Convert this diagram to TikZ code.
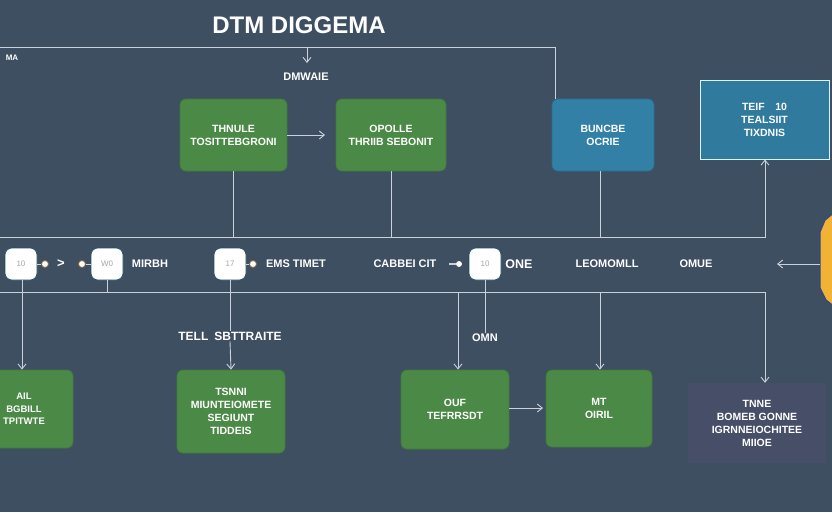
\documentclass[tikz,border=0pt]{standalone}
\usepackage{fontspec}
\setmainfont{Liberation Sans}
\usetikzlibrary{arrows.meta,calc}
\definecolor{bg}{HTML}{3E4F62}
\definecolor{ln}{HTML}{C8D1DC}
\definecolor{gfill}{HTML}{4B8A46}
\definecolor{gedge}{HTML}{3F7A3C}
\definecolor{bfill}{HTML}{3380A6}
\definecolor{pfill}{HTML}{474E68}
\definecolor{yel}{HTML}{F2B233}
\definecolor{yedge}{HTML}{34458A}
\definecolor{dotedge}{HTML}{8A6A3A}
\begin{document}
\begin{tikzpicture}[x=1pt,y=-1pt,
  boxtext/.style={text=white,font=\bfseries\fontsize{10.5}{13}\selectfont,align=center,inner sep=0pt},
  gbox/.style={boxtext,rectangle,rounded corners=6pt,fill=gfill,draw=gedge,line width=0.8pt},
  bbox/.style={boxtext,rectangle,rounded corners=6pt,fill=bfill,draw=bfill!85!black,line width=0.8pt},
  sq/.style={rectangle,rounded corners=7pt,fill=white,draw=bfill!60!black,line width=0.6pt,minimum width=32pt,minimum height=32pt,inner sep=0pt,text=gray!70,font=\fontsize{8}{9}\selectfont},
  lab/.style={text=white,font=\bfseries\fontsize{11}{13}\selectfont,inner sep=1pt},
  dotn/.style={circle,fill=white,draw=dotedge,line width=0.8pt,minimum size=7pt,inner sep=0pt},
  wire/.style={draw=ln,line width=0.9pt},
  arr/.style={wire,-{Straight Barb[length=5pt,width=8pt]}}
]
\fill[bg] (0,0) rectangle (832,512);
\useasboundingbox (0,0) rectangle (832,512);

% title
\node[text=white,font=\bfseries\fontsize{24}{26}\selectfont,inner sep=0] (title) at (299,25) {DTM DIGGEMA};
\node[lab,font=\bfseries\fontsize{8}{9}\selectfont] (ma) at (12,58) {MA};
\node[lab] (dmw) at (306,77) {DMWAIE};

% top boxes
\node[gbox,minimum width=107pt,minimum height=72pt] (g1) at (233.5,135) {THNULE\\TOSITTEBGRONI};
\node[gbox,minimum width=110pt,minimum height=72pt] (g2) at (391,135) {OPOLLE\\THRIIB SEBONIT};
\node[bbox,minimum width=102pt,minimum height=72pt] (b3) at (603,135) {BUNCBE\\OCRIE};
\node[boxtext,rectangle,fill=bfill!95!black,draw=white!85!cyan,line width=0.9pt,minimum width=129pt,minimum height=79pt] (b4) at (764.5,119.5) {TEIF\quad 10\\TEALSIIT\\TIXDNIS};

% band boxes
\node[sq] (s1) at (21,264) {10};
\node[sq] (s2) at (107,264) {W0};
\node[sq] (s3) at (230,264) {17};
\node[sq] (s4) at (485,264) {10};

\node[dotn] (d1) at (45,264) {};
\node[lab,font=\bfseries\fontsize{13}{14}\selectfont] (gt) at (61,264) {>};
\node[dotn] (d2) at (82,264) {};
\node[lab] (mirbh) at (150,264) {MIRBH};
\node[dotn] (d3) at (253,264) {};
\node[lab] (ems) at (296,264) {EMS TIMET};
\node[lab] (cab) at (405,264) {CABBEI CIT};
\node[dotn,draw=white,minimum size=5pt] (d4) at (459,264) {};
\coordinate (d4l) at (449,264);
\node[lab,font=\bfseries\fontsize{12.5}{14}\selectfont] (one) at (519,264) {ONE};
\node[lab] (leo) at (607,264) {LEOMOMLL};
\node[lab] (omue) at (696,264) {OMUE};

% hexagon
\fill[yel,draw=yedge,line width=1.2pt] (836,211) -- (825,220) -- (820,232) -- (820,288) -- (826,300) -- (836,308) -- cycle;
\coordinate (hx) at (820,264);
\coordinate (hxa) at (777,264);

% labels below band
\node[lab,font=\bfseries\fontsize{12}{13}\selectfont,fill=bg] (tell) at (230,336) {TELL\enspace SBTTRAITE};
\node[lab,fill=bg] (omn) at (485,338) {OMN};

% bottom boxes
\node[gbox,font=\bfseries\fontsize{9.5}{12.5}\selectfont,minimum width=98pt,minimum height=78pt] (A) at (24,409) {AIL\\BGBILL\\TPITWTE};
\node[gbox,minimum width=108pt,minimum height=83pt] (B) at (231,411.5) {TSNNI\\MIUNTEIOMETE\\SEGIUNT\\TIDDEIS};
\node[gbox,minimum width=108pt,minimum height=79pt] (C) at (455,409.5) {OUF\\TEFRRSDT};
\node[gbox,minimum width=106pt,minimum height=77pt] (D) at (599,408.5) {MT\\OIRIL};
\node[boxtext,rectangle,fill=pfill,minimum width=138pt,minimum height=80pt] (E) at (757,423) {TNNE\\BOMEB GONNE\\IGRNNEIOCHITEE\\MIIOE};

% coordinates
\coordinate (tl) at (0,47);
\coordinate (tc) at (555,47);
\coordinate (ta) at (307,47);
\coordinate (tb) at (307,63);
\coordinate (l1a) at (0,237);
\coordinate (l1b) at (765,237);
\coordinate (l2a) at (0,292);
\coordinate (l2b) at (765,292);
\coordinate (c458) at (458,292);
\coordinate (c600) at (600,292);
\coordinate (b3d) at (600,171);
\coordinate (s1d) at (22,280);
\coordinate (g2w) at (325,135);
\coordinate (dw) at (543,408);

% top wires
\draw[wire] (tl) -- (tc) -- (tc |- b3.north);
\draw[arr] (ta) -- (tb);
\draw[arr] (g1.east) -- (g2w);
\draw[wire] (g1.south) -- (g1.south |- l1a);
\draw[wire] (g2.south) -- (g2.south |- l1a);
\draw[wire] (b3d) -- (b3d |- l1a);

% band lines
\draw[arr] (l1a) -- (l1b) -- (l1b |- b4.south);
\draw[arr] (l2a) -- (l2b) -- (l2b |- E.north);
\draw[arr] (hx) -- (hxa);

% band dots
\draw[wire] (s1.east) -- (d1.west);
\draw[wire] (d2.east) -- (s2.west);
\draw[wire] (s3.east) -- (d3.west);
\draw[wire,line width=1.4pt] (d4l) -- (d4.west);

% verticals down
\draw[arr] (s1d) -- (s1d |- A.north);
\draw[wire] (s2.south) -- (s2.south |- l2a);
\draw[wire] (s3.south) -- (tell.north);
\draw[arr] (tell.south) -- (B.north);
\draw[wire] (s4.south) -- (omn.north);
\draw[arr] (c458) -- (c458 |- C.north);
\draw[arr] (c600) -- (c600 |- D.north);
\draw[arr] (C.east |- dw) -- (dw);
\end{tikzpicture}
\end{document}
